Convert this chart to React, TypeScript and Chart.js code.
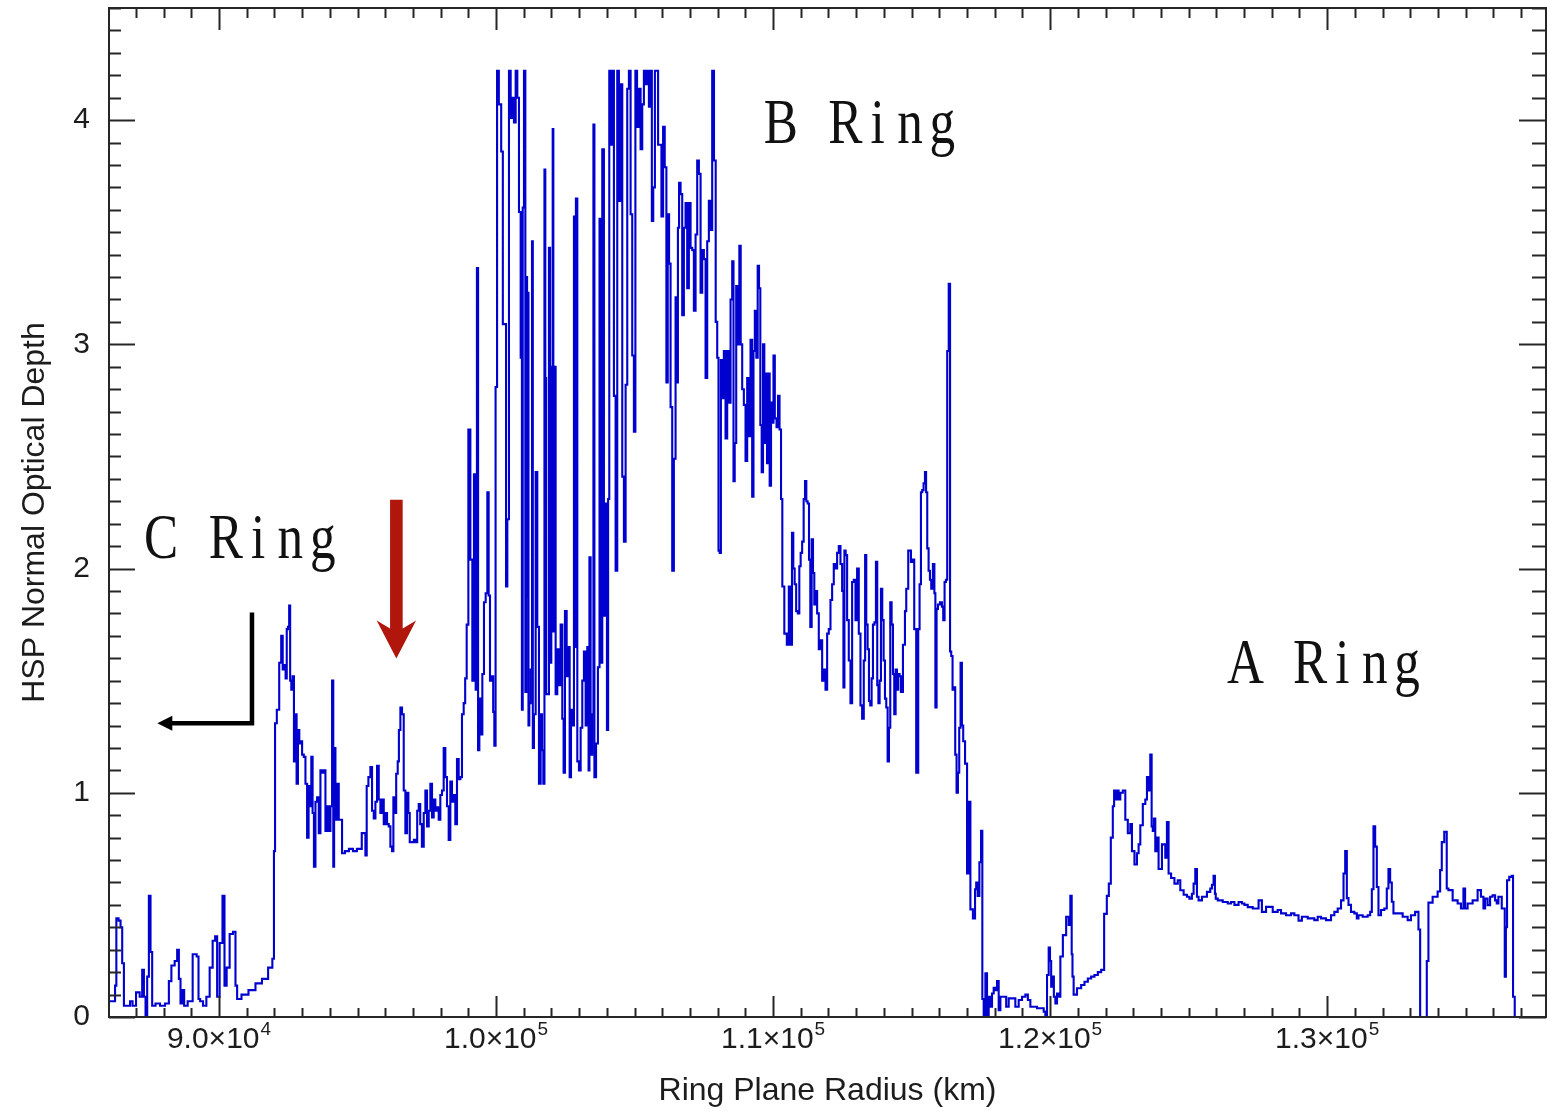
import React, { useEffect, useRef } from 'react';
import { Chart, registerables } from 'chart.js';

Chart.register(...registerables);

// ---------------- DATA (Ring plane radius in km, HSP normal optical depth) ----------------
const cRingRadius = [
  86050, 86238, 86259, 86332, 86418, 86476, 86537, 86599, 86754, 86826, 86934, 87078, 87197, 87259, 87320, 87378,
  87439, 87500, 87558, 87619, 87799, 87944, 88161, 88222, 88341, 88460, 88521, 88583, 88640, 88701, 88785, 88954,
  89146, 89243, 89279, 89362, 89485, 89604, 89723, 89820, 89903, 89964, 90083, 90170, 90228, 90325, 90444, 90566,
  90624, 90686, 90938, 91191, 91443, 91660, 91887, 91966, 92002, 92046, 92129, 92219, 92273, 92327, 92381, 92428,
  92464, 92515, 92551, 92587, 92634, 92681, 92731, 92778, 92825, 92875, 92923, 92970, 93031, 93092, 93150, 93211,
  93258, 93309, 93356, 93402, 93453, 93511, 93572, 93633, 93691, 93752, 93814, 93871, 93932, 93994, 94052, 94113,
  94138, 94174, 94232, 94293, 94354, 94412, 94473, 94618, 94762, 94906, 95051, 95256, 95314, 95350, 95437, 95494,
  95556, 95617, 95675, 95736, 95797, 95855, 95917, 95978, 96036, 96097, 96158, 96216, 96277, 96313, 96360, 96433,
  96469, 96519, 96577, 96638, 96699, 96757, 96818, 96855, 96916, 96999, 97071, 97131, 97179, 97240, 97288, 97360,
  97421, 97479, 97540, 97601, 97659, 97720, 97781, 97839, 97900, 97961, 98019, 98080, 98141, 98199, 98261, 98322,
  98380, 98441, 98502, 98560, 98622, 98683, 98741, 98802, 98863, 98910,
];
const cRingDepth = [
  0.07, 0.07, 0.14, 0.44, 0.43, 0.40, 0.24, 0.05, 0.05, 0.07, 0.05, 0.11, 0.09, 0.21, 0.09, 0.0,
  0.18, 0.54, 0.29, 0.05, 0.06, 0.05, 0.06, 0.16, 0.23, 0.25, 0.30, 0.17, 0.06, 0.12, 0.05, 0.07,
  0.28, 0.27, 0.08, 0.07, 0.05, 0.09, 0.22, 0.34, 0.36, 0.09, 0.33, 0.54, 0.14, 0.22, 0.37, 0.38,
  0.14, 0.08, 0.10, 0.12, 0.15, 0.17, 0.22, 0.26, 0.74, 1.31, 1.37, 1.58, 1.70, 1.55, 1.57, 1.51,
  1.73, 1.74, 1.835, 1.50, 1.46, 1.52, 1.14, 1.35, 1.04, 1.28, 1.22, 1.23, 1.17, 1.16, 1.04, 0.80,
  1.03, 0.94, 1.16, 0.91, 0.67, 0.96, 0.98, 0.82, 1.10, 1.09, 1.10, 0.83, 0.94, 0.83, 0.94, 1.50,
  0.67, 1.20, 0.88, 1.04, 0.88, 0.88, 0.73, 0.74, 0.75, 0.74, 0.75, 0.82, 0.72, 1.03, 1.07, 1.115,
  0.92, 0.885, 0.96, 1.12, 0.97, 0.91, 0.97, 0.86, 0.91, 0.86, 0.85, 0.76, 0.74, 0.98, 0.91, 1.085,
  1.14, 1.28, 1.38, 1.35, 1.01, 0.82, 1.00, 0.91, 0.78, 0.78, 0.79, 0.78, 0.92, 0.95, 0.86, 0.76,
  0.91, 1.01, 0.85, 0.92, 1.04, 0.89, 0.97, 0.92, 0.935, 0.88, 0.99, 1.01, 1.20, 1.07, 0.94, 0.79,
  1.05, 0.96, 0.99, 0.86, 1.15, 1.06, 1.07, 1.35, 1.40, 1.51,
];

const bRingRadius = [
  98972, 99031, 99116, 99174, 99235, 99296, 99325, 99380, 99416, 99477, 99535, 99596, 99657, 99716, 99752, 99813,
  99874, 99921, 99957, 100011, 100065, 100138, 100235, 100257, 100343, 100379, 100437, 100498, 100559, 100617, 100678, 100740,
  100798, 100859, 100920, 100949, 100978, 101040, 101076, 101112, 101130, 101159, 101184, 101220, 101281, 101317, 101339, 101400,
  101461, 101519, 101581, 101642, 101678, 101735, 101761, 101797, 101822, 101880, 101941, 101959, 102031, 102060, 102078, 102121,
  102182, 102240, 102302, 102363, 102421, 102457, 102519, 102580, 102627, 102688, 102724, 102782, 102844, 102862, 102905, 102963,
  103024, 103085, 103143, 103204, 103265, 103323, 103359, 103384, 103445, 103503, 103528, 103575, 103647, 103709, 103763, 103806,
  103864, 103925, 103986, 104022, 104070, 104106, 104167, 104225, 104286, 104347, 104405, 104467, 104528, 104586, 104647, 104708,
  104766, 104827, 104888, 104946, 105007, 105054, 105127, 105188, 105249, 105307, 105368, 105430, 105488, 105549, 105603, 105646,
  105704, 105765, 105935, 106007, 106054, 106126, 106173, 106223, 106270, 106331, 106389, 106450, 106511, 106547, 106584, 106631,
  106692, 106750, 106811, 106872, 106930, 106992, 107053, 107111, 107172, 107233, 107291, 107353, 107414, 107472, 107533, 107594,
  107652, 107713, 107774, 107832, 107904, 107955, 108013, 108049, 108099, 108135, 108193, 108254, 108315, 108374, 108435, 108496,
  108554, 108590, 108641, 108699, 108760, 108806, 108857, 108915, 108976, 109037, 109095, 109156, 109217, 109275, 109311, 109373,
  109420, 109470, 109517, 109564, 109614, 109661, 109708, 109758, 109805, 109852, 109903, 109950, 109997, 110033, 110094, 110156,
  110203, 110264, 110311, 110358, 110455, 110538, 110599, 110660, 110707, 110754, 110805, 110863, 110924, 110971, 111021, 111079,
  111130, 111177, 111224, 111274, 111321, 111368, 111418, 111465, 111512, 111562, 111620, 111682, 111743, 111801, 111862, 111923,
  111981, 112042, 112103, 112161, 112222, 112283, 112341, 112403, 112464, 112522, 112558, 112594, 112644, 112702, 112764, 112825,
  112883, 112944, 113005, 113063, 113125, 113186, 113244, 113305, 113341, 113388, 113438, 113485, 113532, 113582, 113629, 113690,
  113737, 113784, 113821, 113871, 113918, 113965, 114016, 114063, 114110, 114160, 114207, 114254, 114304, 114351, 114398, 114448,
  114495, 114542, 114592, 114639, 114737, 114784, 114831, 114928, 115025, 115072, 115119, 115216, 115263, 115314, 115361, 115408,
  115459, 115506, 115542, 115589, 115639, 115686, 115733, 115805, 115841, 115877, 115928, 115975, 116072, 116119, 116166, 116216,
  116263, 116310, 116371, 116407, 116454, 116504, 116552, 116598, 116649, 116696, 116743, 116793, 116840, 116887, 116974, 117032,
  117093, 117154, 117273, 117309, 117356, 117417, 117478, 117536, 117572,
];
const bRingDepth = [
  1.75, 2.62, 2.04, 1.50, 2.42, 1.46, 3.34, 1.19, 1.42, 1.26, 1.53, 1.85, 1.89, 2.34, 1.88, 1.50,
  1.52, 1.36, 1.21, 2.81, 4.22, 4.07, 3.86, 3.09, 3.09, 1.92, 2.22, 4.22, 4.01, 4.10, 3.99, 4.22,
  4.10, 3.59, 2.94, 1.37, 3.61, 4.22, 1.45, 3.30, 1.88, 3.23, 1.30, 1.40, 1.55, 3.46, 1.20, 1.35,
  2.43, 1.74, 1.04, 1.35, 1.19, 1.04, 3.78, 2.85, 1.44, 1.44, 3.43, 1.58, 2.90, 3.96, 1.72, 2.90,
  1.44, 1.64, 1.48, 1.75, 1.33, 1.09, 1.81, 1.52, 1.65, 1.07, 1.37, 1.30, 3.57, 1.65, 3.65, 1.14,
  1.10, 1.29, 1.50, 1.63, 1.30, 1.65, 1.10, 2.05, 1.17, 1.35, 3.98, 1.07, 1.22, 1.56, 3.56, 1.58,
  3.87, 1.79, 2.29, 1.28, 2.31, 4.22, 3.89, 4.22, 2.77, 1.99, 4.22, 3.64, 4.16, 2.41, 2.12, 2.82,
  4.14, 4.22, 3.58, 2.95, 2.61, 4.22, 3.97, 4.14, 3.87, 4.07, 4.22, 4.16, 4.22, 4.06, 4.22, 3.55,
  3.70, 4.22, 3.89, 3.57, 3.97, 3.79, 2.83, 3.58, 3.36, 2.72, 1.99, 2.49, 3.21, 2.83, 3.52, 3.72,
  3.67, 3.13, 3.52, 3.63, 3.25, 3.63, 3.43, 3.42, 3.15, 3.49, 3.82, 3.76, 3.23, 3.42, 3.38, 2.85,
  3.46, 3.64, 3.51, 4.22, 3.82, 3.10, 2.94, 2.08, 2.07, 2.93, 2.76, 2.97, 2.58, 2.97, 2.74, 3.20,
  3.37, 2.39, 2.56, 3.26, 3.00, 3.44, 3.00, 2.80, 2.73, 2.48, 2.85, 2.59, 3.02, 2.32, 2.97, 3.15,
  2.94, 3.35, 3.25, 2.64, 2.43, 3.00, 2.56, 2.87, 2.47, 2.87, 2.37, 2.74, 2.65, 2.95, 2.67, 2.63,
  2.77, 2.62, 2.31, 1.92, 1.71, 1.66, 1.92, 1.66, 2.16, 2.00, 1.93, 1.81, 1.80, 2.01, 2.07, 2.12,
  2.31, 2.39, 2.30, 2.29, 2.04, 1.74, 2.13, 1.98, 1.84, 1.90, 1.80, 1.64, 1.68, 1.50, 1.55, 1.46,
  1.71, 1.73, 1.86, 1.93, 2.02, 2.00, 2.07, 2.10, 2.02, 1.90, 1.47, 2.08, 2.06, 1.77, 1.59, 1.40,
  1.94, 1.95, 1.77, 2.00, 1.71, 1.39, 1.33, 1.59, 2.06, 1.75, 1.64, 1.41, 1.39, 1.51, 1.75, 1.76,
  2.03, 1.48, 1.40, 1.50, 1.91, 1.77, 1.59, 1.42, 1.38, 1.14, 1.29, 1.85, 1.75, 1.53, 1.35, 1.55,
  1.46, 1.53, 1.52, 1.45, 1.66, 1.81, 1.91, 2.08, 2.03, 2.04, 1.73, 1.09, 1.73, 1.93, 2.34, 2.35,
  2.38, 2.43, 2.34, 2.09, 1.99, 1.95, 1.91, 2.02, 1.89, 1.38, 1.82, 1.84, 1.85, 1.83, 1.77, 1.94,
  1.95, 2.97, 3.27, 1.63, 1.61, 1.46, 1.47, 1.17, 1.00, 1.09, 1.29, 1.58, 1.30, 1.23, 1.13, 0.64,
  0.96, 0.48, 0.44, 0.57, 0.60, 0.54, 0.69, 0.83, 0.08,
];

const aRingRadius = [
  117634, 117694, 117752, 117814, 117875, 117933, 117994, 118055, 118113, 118175, 118236, 118355, 118475, 118536, 118655, 118836,
  118897, 119077, 119138, 119257, 119318, 119738, 119799, 119859, 119919, 119979, 120015, 120062, 120112, 120160, 120221, 120279,
  120340, 120401, 120520, 120639, 120700, 120761, 120797, 120819, 120880, 121061, 121180, 121302, 121422, 121541, 121663, 121783,
  121902, 121999, 122096, 122143, 122240, 122287, 122334, 122384, 122442, 122504, 122565, 122684, 122745, 122865, 122926, 122984,
  123106, 123164, 123226, 123287, 123406, 123467, 123525, 123586, 123647, 123683, 123730, 123766, 123827, 123885, 123947, 124127,
  124188, 124246, 124308, 124427, 124549, 124669, 124730, 124910, 124968, 125089, 125149, 125210, 125271, 125329, 125390, 125571,
  125751, 125812, 125870, 125931, 125967, 125992, 126112, 126353, 126472, 126592, 126713, 126893, 126953, 127074, 127194, 127436,
  127615, 127675, 127915, 128156, 128276, 128396, 128637, 128757, 128877, 129058, 129118, 129479, 129599, 129719, 129839, 130080,
  130200, 130321, 130441, 130561, 130622, 130682, 130740, 130801, 130921, 131042, 131100, 131162, 131403, 131523, 131584, 131642,
  131703, 131764, 131822, 131884, 132004, 132124, 132182, 132244, 132305, 132363, 132424, 132605, 132847, 132966, 133085, 133266,
  133327, 133388, 133568, 133626, 133687, 133928, 134048, 134109, 134167, 134288, 134346, 134409, 134651, 134770, 134889, 134950,
  135010, 135130, 135372, 135491, 135611, 135672, 135732, 135852, 135912, 136032, 136093, 136151, 136213, 136393, 136429, 136476,
  136512, 136634, 136692, 136728, 136815,
];
const aRingDepth = [
  0.0, 0.195, 0.0, 0.09, 0.046, 0.105, 0.13, 0.12, 0.16, 0.03, 0.09, 0.09, 0.046, 0.083, 0.083, 0.046,
  0.076, 0.09, 0.10, 0.076, 0.046, 0.039, 0.024, 0.0, 0.187, 0.31, 0.25, 0.135, 0.18, 0.09, 0.06, 0.105,
  0.09, 0.27, 0.365, 0.447, 0.41, 0.54, 0.28, 0.18, 0.10, 0.128, 0.143, 0.157, 0.172, 0.18, 0.187, 0.20,
  0.21, 0.46, 0.54, 0.595, 0.80, 0.94, 1.01, 0.97, 1.01, 0.97, 1.00, 1.01, 0.88, 0.82, 0.86, 0.74,
  0.68, 0.73, 0.77, 0.855, 0.95, 0.97, 1.07, 1.01, 1.17, 0.85, 0.83, 0.885, 0.74, 0.80, 0.66, 0.77,
  0.71, 0.87, 0.64, 0.62, 0.595, 0.61, 0.565, 0.545, 0.536, 0.528, 0.55, 0.595, 0.66, 0.536, 0.52, 0.536,
  0.558, 0.573, 0.59, 0.63, 0.55, 0.528, 0.52, 0.513, 0.506, 0.513, 0.50, 0.513, 0.506, 0.50, 0.49, 0.484,
  0.52, 0.469, 0.491, 0.469, 0.477, 0.462, 0.454, 0.462, 0.454, 0.43, 0.447, 0.44, 0.432, 0.447, 0.44, 0.432,
  0.454, 0.469, 0.484, 0.52, 0.64, 0.74, 0.53, 0.50, 0.469, 0.462, 0.44, 0.454, 0.447, 0.454, 0.469, 0.57,
  0.85, 0.76, 0.58, 0.454, 0.477, 0.484, 0.573, 0.66, 0.60, 0.514, 0.462, 0.462, 0.447, 0.432, 0.454, 0.469,
  0.39, 0.0, 0.0, 0.25, 0.51, 0.536, 0.56, 0.655, 0.78, 0.826, 0.573, 0.566, 0.52, 0.506, 0.484, 0.573,
  0.484, 0.506, 0.52, 0.566, 0.536, 0.484, 0.528, 0.499, 0.536, 0.543, 0.52, 0.506, 0.536, 0.484, 0.18, 0.40,
  0.61, 0.625, 0.63, 0.09, 0.0,
];

// Axes
const xMin = 86030;
const xMax = 137900;
const yMin = 0;
const yMax = 4.5;
const xMajorTicks = [90000, 100000, 110000, 120000, 130000];
const xTickMantissas = ['9.0×10', '1.0×10', '1.1×10', '1.2×10', '1.3×10'];
const xTickExponents = ['4', '5', '5', '5', '5'];
const yMajorTicks = [0, 1, 2, 3, 4];
const yTickLabels = ['0', '1', '2', '3', '4'];
const xMinorStep = 1000;
const yMinorStep = 0.1;
const xTitle = 'Ring Plane Radius (km)';
const yTitle = 'HSP Normal Optical Depth';

// Annotations (data coordinates)
const ringLabels = [
  { text: 'B Ring', x: 109697, y: 3.90 },
  { text: 'C Ring', x: 87331, y: 2.045 },
  { text: 'A Ring', x: 126472, y: 1.488 },
];
const redArrow = { x: 96403, yTop: 2.307, yTip: 1.599 };
const blackArrow = { xCorner: 91191, yTop: 1.804, yBend: 1.31, xTip: 87775 };

const SANS = "'Liberation Sans', Arial, Helvetica, sans-serif";
const SERIF = "'Liberation Serif', 'Times New Roman', serif";
const TEXT_COLOR = '#1c1c1c';

const framePlugin = {
  id: 'frameTicks',
  afterDatasetsDraw(chart: any) {
    const { ctx, chartArea, scales } = chart;
    const { left, right, top, bottom } = chartArea;
    const x = scales.x;
    const y = scales.y;
    ctx.save();
    ctx.strokeStyle = '#262626';
    ctx.lineWidth = 2;
    ctx.lineCap = 'butt';
    ctx.beginPath();
    const first = Math.ceil(xMin / xMinorStep) * xMinorStep;
    for (let v = first; v <= xMax; v += xMinorStep) {
      const px = Math.round(x.getPixelForValue(v)) + 0.5;
      const major = xMajorTicks.includes(v);
      ctx.moveTo(px, bottom);
      ctx.lineTo(px, bottom - (major ? 21 : 9));
      ctx.moveTo(px, top);
      ctx.lineTo(px, top + (major ? 22 : 10));
    }
    const nY = Math.round((yMax - yMin) / yMinorStep);
    for (let i = 0; i <= nY; i++) {
      const v = yMin + i * yMinorStep;
      const py = Math.round(y.getPixelForValue(v)) + 0.5;
      const major = yMajorTicks.some((t) => Math.abs(t - v) < 1e-6);
      ctx.moveTo(left, py);
      ctx.lineTo(left + (major ? 26 : 12), py);
      ctx.moveTo(right, py);
      ctx.lineTo(right - (major ? 27 : 14), py);
    }
    ctx.stroke();
    ctx.strokeRect(left, top, right - left, bottom - top);

    // x tick labels with raised exponents
    ctx.fillStyle = TEXT_COLOR;
    ctx.textBaseline = 'alphabetic';
    ctx.textAlign = 'left';
    const baseFont = `30px ${SANS}`;
    const expFont = `19px ${SANS}`;
    const baseline = bottom + 31;
    xMajorTicks.forEach((v, i) => {
      const px = x.getPixelForValue(v);
      ctx.font = baseFont;
      const wBase = ctx.measureText(xTickMantissas[i]).width;
      ctx.font = expFont;
      const wExp = ctx.measureText(xTickExponents[i]).width;
      const x0 = px - (wBase + wExp + 1) / 2;
      ctx.font = baseFont;
      ctx.fillText(xTickMantissas[i], x0, baseline);
      ctx.font = expFont;
      ctx.fillText(xTickExponents[i], x0 + wBase + 1, baseline - 13);
    });
    ctx.restore();
  },
};

const annotationPlugin = {
  id: 'ringAnnotations',
  afterDraw(chart: any) {
    const { ctx, scales } = chart;
    const x = scales.x;
    const y = scales.y;
    ctx.save();
    // ring labels, monospaced serif look
    ctx.fillStyle = '#111';
    ctx.font = `64px ${SERIF}`;
    ctx.textAlign = 'center';
    ctx.textBaseline = 'alphabetic';
    const pitch = 32.3;
    for (const lab of ringLabels) {
      const x0 = x.getPixelForValue(lab.x);
      const y0 = y.getPixelForValue(lab.y);
      for (let i = 0; i < lab.text.length; i++) {
        const ch = lab.text[i];
        if (ch === ' ') continue;
        ctx.save();
        ctx.translate(x0 + i * pitch + pitch / 2, y0);
        ctx.scale(0.8, 1);
        ctx.fillText(ch, 0, 0);
        ctx.restore();
      }
    }
    // red arrow
    const rx = x.getPixelForValue(redArrow.x);
    const rTop = y.getPixelForValue(redArrow.yTop);
    const rTip = y.getPixelForValue(redArrow.yTip);
    const shaftHalf = 6.3;
    const headHalf = 19.7;
    const headLen = 38;
    ctx.fillStyle = '#b0160c';
    ctx.beginPath();
    ctx.moveTo(rx - shaftHalf, rTop);
    ctx.lineTo(rx - shaftHalf, rTip - headLen + 8);
    ctx.lineTo(rx - headHalf, rTip - headLen);
    ctx.lineTo(rx, rTip);
    ctx.lineTo(rx + headHalf, rTip - headLen);
    ctx.lineTo(rx + shaftHalf, rTip - headLen + 8);
    ctx.lineTo(rx + shaftHalf, rTop);
    ctx.closePath();
    ctx.fill();
    // black bent arrow
    const bx = x.getPixelForValue(blackArrow.xCorner);
    const bTop = y.getPixelForValue(blackArrow.yTop);
    const bBend = y.getPixelForValue(blackArrow.yBend);
    const bTip = x.getPixelForValue(blackArrow.xTip);
    ctx.strokeStyle = '#000';
    ctx.fillStyle = '#000';
    ctx.lineWidth = 4.5;
    ctx.lineJoin = 'miter';
    ctx.beginPath();
    ctx.moveTo(bx, bTop);
    ctx.lineTo(bx, bBend);
    ctx.lineTo(bTip + 12, bBend);
    ctx.stroke();
    ctx.beginPath();
    ctx.moveTo(bTip, bBend);
    ctx.lineTo(bTip + 15, bBend - 7.5);
    ctx.lineTo(bTip + 15, bBend + 7.5);
    ctx.closePath();
    ctx.fill();
    ctx.restore();
  },
};

export default function App() {
  const ref = useRef<HTMLCanvasElement>(null);

  useEffect(() => {
    const canvas = ref.current;
    if (!canvas) return;
    const radius = [...cRingRadius, ...bRingRadius, ...aRingRadius];
    const depth = [...cRingDepth, ...bRingDepth, ...aRingDepth];
    const points = radius.map((r, i) => ({ x: r, y: depth[i] }));

    const chart = new Chart(canvas, {
      type: 'line',
      data: {
        datasets: [
          {
            data: points,
            borderColor: '#0000cf',
            borderWidth: 2.1,
            pointRadius: 0,
            stepped: 'middle',
            fill: false,
            tension: 0,
          },
        ],
      },
      options: {
        animation: false,
        responsive: false,
        devicePixelRatio: 1,
        parsing: false,
        layout: { padding: { left: 0, right: 1, top: 8, bottom: 0 } },
        plugins: {
          legend: { display: false },
          tooltip: { enabled: false },
        },
        scales: {
          x: {
            type: 'linear',
            min: xMin,
            max: xMax,
            grid: { display: false, drawTicks: false },
            border: { display: false },
            afterBuildTicks: (scale: any) => {
              scale.ticks = xMajorTicks.map((v) => ({ value: v }));
            },
            afterFit: (scale: any) => {
              scale.height = 94;
              scale.paddingLeft = 0;
              scale.paddingRight = 0;
              scale.paddingTop = 0;
              scale.paddingBottom = 0;
            },
            ticks: { display: false },
            title: {
              display: true,
              text: xTitle,
              color: TEXT_COLOR,
              font: { family: SANS, size: 32 },
              padding: { top: 0, bottom: 1 },
            },
          },
          y: {
            type: 'linear',
            min: yMin,
            max: yMax,
            grid: { display: false, drawTicks: false },
            border: { display: false },
            afterBuildTicks: (scale: any) => {
              scale.ticks = yMajorTicks.map((v) => ({ value: v }));
            },
            afterFit: (scale: any) => {
              scale.width = 109;
              scale.paddingLeft = 0;
              scale.paddingRight = 0;
              scale.paddingTop = 0;
              scale.paddingBottom = 0;
            },
            ticks: {
              autoSkip: false,
              padding: 19,
              color: TEXT_COLOR,
              font: { family: SANS, size: 30 },
              callback: (_v: any, i: number) => yTickLabels[i],
            },
            title: {
              display: true,
              text: yTitle,
              color: TEXT_COLOR,
              font: { family: SANS, size: 32 },
              padding: { top: 16, bottom: 0 },
            },
          },
        },
      },
      plugins: [framePlugin, annotationPlugin],
    } as any);

    return () => chart.destroy();
  }, []);

  return (
    <div style={{ position: 'fixed', left: 0, top: 0, width: 1547, height: 1111, background: '#fff' }}>
      <canvas ref={ref} width={1547} height={1111} style={{ display: 'block' }} />
    </div>
  );
}
